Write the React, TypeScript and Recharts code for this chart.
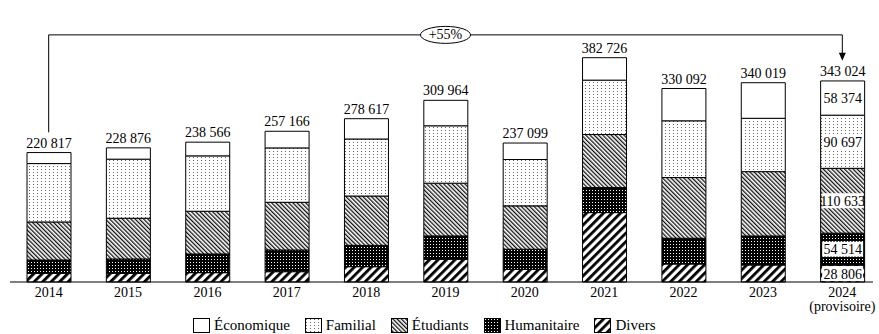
import React from "react";
import { BarChart, Bar, XAxis, YAxis, LabelList, Legend, ReferenceLine } from "recharts";

const FONT = "'Liberation Serif', 'Times New Roman', serif";

// Years on the axis, and a second line under the last one
const years = ["2014", "2015", "2016", "2017", "2018", "2019", "2020", "2021", "2022", "2023", "2024"];
const yearNotes = ["", "", "", "", "", "", "", "", "", "", "(provisoire)"];
const detailedYear = "2024";
const growthLabel = "+55%";

// Totals printed above the bars
const totals = [220817, 228876, 238566, 257166, 278617, 309964, 237099, 382726, 330092, 340019, 343024];

// Stacked segments (bottom to top)
const divers = [14860, 14860, 15900, 17600, 26100, 38800, 21700, 118400, 30700, 29000, 28806];
const humanitaire = [22700, 24400, 31900, 37000, 36400, 39800, 34200, 42700, 43900, 49500, 54514];
const etudiants = [64900, 69500, 72900, 81400, 84200, 90000, 74000, 90500, 103600, 109800, 110633];
const familial = [99600, 100800, 94500, 92800, 97300, 97900, 79100, 92800, 96800, 91000, 90697];
const economique = [18757, 19316, 23366, 28366, 34617, 43464, 28099, 38326, 55092, 60719, 58374];

const data = years.map((year, i) => ({
  year,
  total: totals[i],
  divers: divers[i],
  humanitaire: humanitaire[i],
  etudiants: etudiants[i],
  familial: familial[i],
  economique: economique[i],
}));

const series = [
  { key: "divers", name: "Divers", fill: "url(#pDiv)", values: divers },
  { key: "humanitaire", name: "Humanitaire", fill: "url(#pHum)", values: humanitaire },
  { key: "etudiants", name: "Étudiants", fill: "url(#pEtu)", values: etudiants },
  { key: "familial", name: "Familial", fill: "url(#pFam)", values: familial },
  { key: "economique", name: "Économique", fill: "#ffffff", values: economique },
];

// bracket arrow, in data units
const bracketY = 421600;
const bracketGap = 34500;

const fmt = (v: number) => String(v).replace(/\B(?=(\d{3})+(?!\d))/g, " ");

const YearTick = ({ x, y, payload }: any) => {
  const i = years.indexOf(payload.value);
  return (
    <text x={x} y={y} textAnchor="middle" fontFamily={FONT} fontSize={14} fill="#000">
      <tspan x={x} dy={11}>{payload.value}</tspan>
      {yearNotes[i] ? <tspan x={x} dy={14}>{yearNotes[i]}</tspan> : null}
    </text>
  );
};

const TotalLabel = (props: any) => {
  const { x, y, width, value } = props;
  return (
    <text
      x={Number(x) + Number(width) / 2}
      y={Number(y) - 5}
      textAnchor="middle"
      fontFamily={FONT}
      fontSize={14}
      fill="#000"
    >
      {fmt(Number(value))}
    </text>
  );
};

const makeInnerLabel = (values: number[]) => (props: any) => {
  const { x, y, width, height, index } = props;
  if (years[index] !== detailedYear) return null;
  const cx = Number(x) + Number(width) / 2;
  const cy = Number(y) + Number(height) / 2;
  return (
    <g>
      <rect x={Number(x) + 1.5} y={cy - 7.5} width={Number(width) - 3} height={15} fill="#fff" />
      <text x={cx} y={cy + 5} textAnchor="middle" fontFamily={FONT} fontSize={14} fill="#000">
        {fmt(values[index])}
      </text>
    </g>
  );
};

const GrowthLabel = (props: any) => {
  const vb = props.viewBox || {};
  const cx = vb.x + (vb.width || 0) / 2;
  const cy = vb.y + (vb.height || 0) / 2;
  return (
    <g>
      <ellipse cx={cx} cy={cy} rx={25} ry={8.5} fill="#fff" stroke="#000" strokeWidth={1} />
      <text x={cx} y={cy + 4.5} textAnchor="middle" fontFamily={FONT} fontSize={14} fill="#000">
        {growthLabel}
      </text>
    </g>
  );
};

const ArrowLine = (props: any) => {
  const { x1, y1, x2, y2 } = props;
  const top = Math.min(y1, y2);
  const tip = Math.max(y1, y2);
  return (
    <g>
      <line x1={x1} y1={top} x2={x2} y2={tip - 6} stroke="#000" strokeWidth={1} />
      <polygon points={`${x2 - 3.5},${tip - 8} ${x2 + 3.5},${tip - 8} ${x2},${tip}`} fill="#000" />
    </g>
  );
};

const renderLegend = () => (
  <div
    style={{
      display: "flex",
      alignItems: "center",
      height: 18,
      paddingLeft: 193,
      fontFamily: FONT,
      fontSize: 15,
      color: "#000",
    }}
  >
    {[...series].reverse().map((s) => (
      <div key={s.key} style={{ display: "flex", alignItems: "center", marginRight: 15 }}>
        <svg width={17} height={15} style={{ marginRight: 4 }}>
          <rect x={0.5} y={0.5} width={16} height={14} fill={s.fill} stroke="#000" />
        </svg>
        <span>{s.name}</span>
      </div>
    ))}
  </div>
);

export default function App() {
  return (
    <div style={{ position: "absolute", left: 0, top: 0, width: 879, height: 334, overflow: "hidden", background: "#fff" }}>
      <BarChart
        width={879}
        height={334}
        data={data}
        margin={{ top: 20, right: 6, left: 10, bottom: 0 }}
        style={{ fontFamily: FONT }}
      >
        <defs>
          <pattern id="pFam" width="4" height="3" patternUnits="userSpaceOnUse">
            <rect width="4" height="3" fill="#fff" />
            <rect x="1" y="1" width="1" height="1" fill="#666" />
          </pattern>
          <pattern id="pEtu" width="3" height="3" patternUnits="userSpaceOnUse" patternTransform="rotate(-45)">
            <rect width="3" height="3" fill="#fff" />
            <rect width="1.3" height="3" fill="#111" />
          </pattern>
          <pattern id="pHum" width="3" height="3" patternUnits="userSpaceOnUse">
            <rect width="3" height="3" fill="#000" />
            <rect x="1" y="1" width="1" height="1" fill="#fff" />
          </pattern>
          <pattern id="pDiv" width="6" height="6" patternUnits="userSpaceOnUse" patternTransform="rotate(45)">
            <rect width="6" height="6" fill="#fff" />
            <rect width="2.8" height="6" fill="#000" />
          </pattern>
        </defs>
        <XAxis
          dataKey="year"
          interval={0}
          tickLine={false}
          tickSize={0}
          tickMargin={4}
          height={34}
          padding={{ left: -1, right: -9 }}
          axisLine={{ stroke: "#000", strokeWidth: 1 }}
          tick={<YearTick />}
        />
        <YAxis hide domain={[0, 447000]} />
        <Legend verticalAlign="bottom" content={renderLegend} wrapperStyle={{ left: 0, bottom: 0, width: 879, height: 18 }} />
        {series.map((s) => (
          <Bar
            key={s.key}
            dataKey={s.key}
            name={s.name}
            stackId="a"
            fill={s.fill}
            stroke="#000"
            strokeWidth={1}
            barSize={44}
            isAnimationActive={false}
          >
            <LabelList dataKey={s.key} content={makeInnerLabel(s.values)} />
            {s.key === "economique" ? <LabelList dataKey="total" content={TotalLabel} /> : null}
          </Bar>
        ))}
        <ReferenceLine
          segment={[{ x: years[0], y: totals[0] + bracketGap }, { x: years[0], y: bracketY }]}
          stroke="#000"
          strokeWidth={1}
        />
        <ReferenceLine
          segment={[{ x: years[0], y: bracketY }, { x: years[years.length - 1], y: bracketY }]}
          stroke="#000"
          strokeWidth={1}
          label={GrowthLabel}
        />
        <ReferenceLine
          segment={[
            { x: years[years.length - 1], y: bracketY },
            { x: years[years.length - 1], y: totals[totals.length - 1] + bracketGap },
          ]}
          stroke="#000"
          strokeWidth={1}
          shape={ArrowLine}
        />
      </BarChart>
    </div>
  );
}
